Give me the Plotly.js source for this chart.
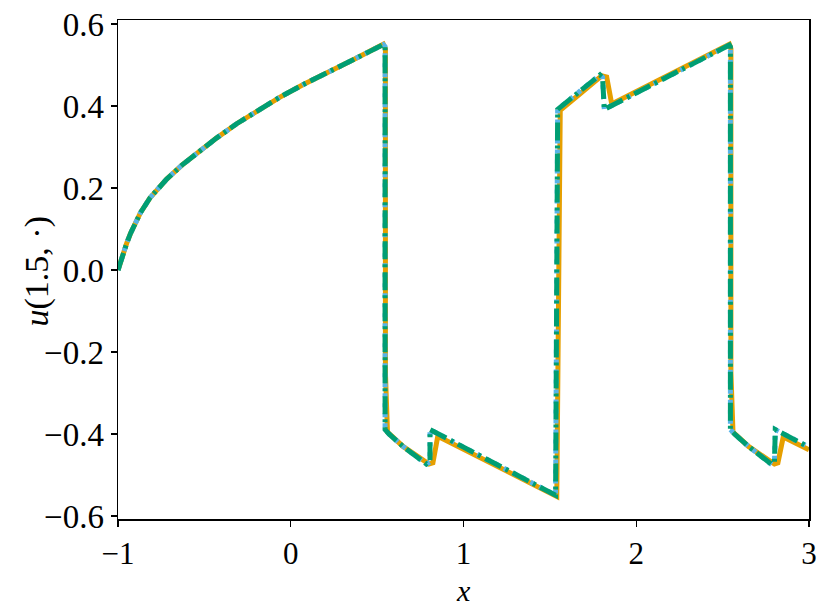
<!DOCTYPE html>
<html>
<head>
<meta charset="utf-8">
<script src="https://cdn.plot.ly/plotly-3.0.1.min.js"></script>
<style>html,body{margin:0;padding:0;background:#fff;}#chart{width:831px;height:612px;}</style>
</head>
<body>
<div id="chart"></div>
<script>
// Reference solution (green dash-dot) and dotted blue share these samples
const xGreen = [-1, -0.985, -0.969, -0.95, -0.927, -0.905, -0.87, -0.815, -0.718, -0.63, -0.544, -0.43, -0.313, -0.19, -0.062, 0.07, 0.208, 0.37, 0.536, 0.546, 0.546, 0.57, 0.65, 0.786, 0.806, 0.806, 1.533, 1.545, 1.67, 1.79, 1.805, 1.815, 2.539, 2.545, 2.545, 2.57, 2.65, 2.784, 2.8, 2.805, 3.0];
const yGreen = [0, 0.022, 0.042, 0.065, 0.09, 0.11, 0.14, 0.176, 0.222, 0.256, 0.286, 0.322, 0.357, 0.39, 0.422, 0.452, 0.48, 0.515, 0.55, 0.545, -0.389, -0.4, -0.43, -0.473, -0.468, -0.389, -0.549, 0.392, 0.435, 0.476, 0.47, 0.392, 0.549, 0.545, -0.389, -0.4, -0.43, -0.474, -0.468, -0.389, -0.432];
const xBlue = xGreen.slice();
const yBlue = yGreen.slice();
// Orange solid line
const xOrange = [-1, -0.985, -0.969, -0.95, -0.927, -0.905, -0.87, -0.815, -0.718, -0.63, -0.544, -0.43, -0.313, -0.19, -0.062, 0.07, 0.208, 0.37, 0.536, 0.548, 0.548, 0.56, 0.65, 0.80, 0.823, 0.851, 1.54, 1.552, 1.56, 1.675, 1.80, 1.829, 1.858, 2.539, 2.548, 2.548, 2.56, 2.65, 2.80, 2.82, 2.851, 3.0];
const yOrange = [0, 0.022, 0.042, 0.065, 0.09, 0.11, 0.14, 0.176, 0.222, 0.256, 0.286, 0.322, 0.357, 0.39, 0.422, 0.452, 0.48, 0.515, 0.551, 0.54, -0.25, -0.395, -0.43, -0.473, -0.47, -0.405, -0.552, 0.2, 0.39, 0.43, 0.474, 0.471, 0.405, 0.551, 0.54, -0.25, -0.395, -0.43, -0.473, -0.47, -0.407, -0.438];
const xTicks = [-1, 0, 1, 2, 3];
const yTicks = [-0.6, -0.4, -0.2, 0.0, 0.2, 0.4, 0.6];

const FONT = "'Liberation Serif', serif";
const traces = [
  {x: xOrange, y: yOrange, mode: 'lines', line: {color: '#E69F00', width: 5, dash: 'solid'}, hoverinfo: 'skip'},
  {x: xBlue, y: yBlue, mode: 'lines', line: {color: '#56B4E9', width: 5, dash: '4px,6px'}, hoverinfo: 'skip'},
  {x: xGreen, y: yGreen, mode: 'lines', line: {color: '#009E73', width: 5, dash: '18px,5px,3px,5px'}, hoverinfo: 'skip'}
];
const layout = {
  width: 831, height: 612,
  margin: {l: 118, r: 22, t: 20, b: 93},
  paper_bgcolor: '#fff', plot_bgcolor: '#fff',
  showlegend: false,
  font: {family: FONT, size: 33, color: '#000'},
  xaxis: {
    range: [-1, 3], tickvals: xTicks, ticktext: xTicks.map(v => v < 0 ? '\u2212' + Math.abs(v) : String(v)),
    showgrid: false, zeroline: false, showline: true, linecolor: '#000', linewidth: 1.5, mirror: true,
    ticks: 'outside', ticklen: 6, tickwidth: 1.3, tickcolor: '#000',
    tickfont: {family: FONT, size: 31}
  },
  yaxis: {
    range: [-0.607, 0.61], tickvals: yTicks, ticktext: yTicks.map(v => (v < 0 ? '\u2212' : '') + Math.abs(v).toFixed(1)),
    showgrid: false, zeroline: false, showline: true, linecolor: '#000', linewidth: 1.5, mirror: true,
    ticks: 'outside', ticklen: 6, tickwidth: 1.3, tickcolor: '#000',
    tickfont: {family: FONT, size: 33}
  },
  annotations: [
    {text: '<i>x</i>', xref: 'paper', yref: 'paper', x: 0.5, y: 0, yshift: -53, xanchor: 'center', yanchor: 'top', showarrow: false, font: {family: FONT, size: 30}},
    {text: '<i>u</i>(1.5, \u00b7)', xref: 'paper', yref: 'paper', x: 0, y: 0.5, xshift: -82, yshift: -2, textangle: -90, xanchor: 'center', yanchor: 'middle', showarrow: false, font: {family: FONT, size: 34}}
  ]
};
Plotly.newPlot('chart', traces, layout, {staticPlot: true, displayModeBar: false});
</script>
</body>
</html>
